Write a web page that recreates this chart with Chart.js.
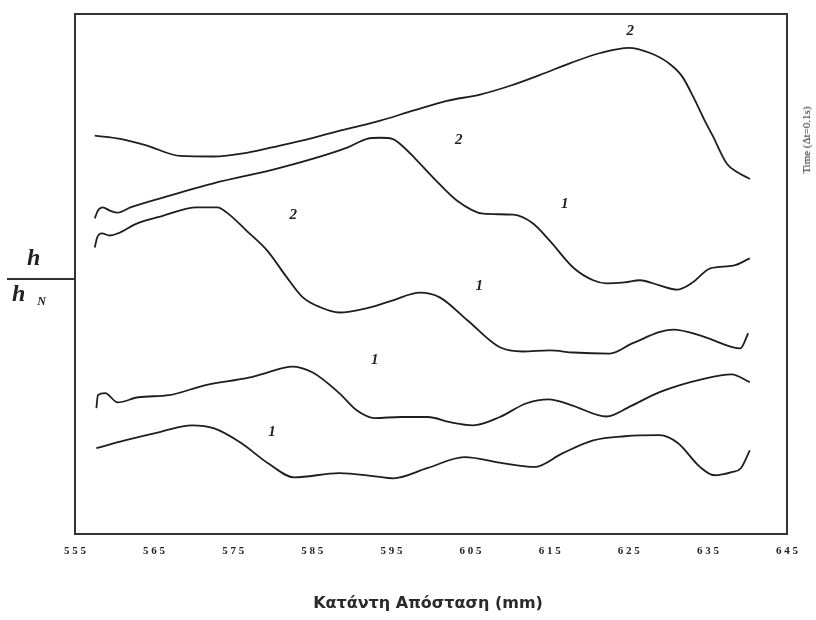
<!DOCTYPE html>
<html>
<head>
<meta charset="utf-8">
<script src="https://cdn.jsdelivr.net/npm/chart.js@4.4.0/dist/chart.umd.min.js"></script>
<style>
  body { margin: 0; background: #fff; }
  #wrap { position: relative; width: 816px; height: 620px; }
  .lbl { position: absolute; font-family: "Liberation Serif", serif; color: #222; white-space: nowrap; }
  #hTop { left: 27px; top: 244px; font-size: 24px; font-style: italic; font-weight: bold; }
  #hBar { position: absolute; left: 7px; top: 278px; width: 68px; height: 0; border-top: 2px solid #333; }
  #hBot { left: 12px; top: 280px; font-size: 24px; font-style: italic; font-weight: bold; }
  #hBot sub { font-size: 12px; margin-left: 12px; vertical-align: -4px; }
  #timeLbl { left: 806px; top: 140px; font-size: 11px; transform: translate(-50%, -50%) rotate(-90deg); }
  #xTitle { left: 428px; top: 593px; transform: translateX(-50%); font-family: "DejaVu Sans", sans-serif; font-weight: bold; font-size: 16px; color: #2a2a2a; }
</style>
</head>
<body>
<div id="wrap">
  <canvas id="grafico" width="816" height="620"></canvas>
  <div class="lbl" id="hTop">h</div>
  <div id="hBar"></div>
  <div class="lbl" id="hBot">h<sub>N</sub></div>
  <div class="lbl" id="timeLbl">Time (Δt=0.1s)</div>
  <div class="lbl" id="xTitle">Κατάντη Απόσταση (mm)</div>
</div>
<script>
// tick labels of the distance axis (mm)
const tickValues = [555, 565, 575, 585, 595, 605, 615, 625, 635, 645];

// curves, top to bottom (x in mm, y in relative height units)
const xA = [557.5, 560.7, 564.1, 568.3, 572.4, 576.7, 580.9, 585.1, 589.4, 593.6, 597.7, 602.0, 606.2, 610.0, 613.8, 617.7, 621.4, 625.0, 627.7, 630.0, 631.7, 633.4, 634.6, 635.6, 637.4, 638.8, 640.3];
const yA = [76.6, 76.0, 74.7, 72.7, 72.6, 73.3, 74.7, 76.2, 77.9, 79.5, 81.4, 83.3, 84.5, 86.2, 88.3, 90.6, 92.5, 93.5, 92.5, 90.6, 88.1, 83.3, 79.5, 76.6, 71.2, 69.5, 68.3];

const xB = [557.5, 557.9, 558.5, 559.4, 560.4, 562.0, 566.1, 572.4, 580.9, 589.4, 591.9, 593.6, 595.1, 596.1, 598.0, 600.3, 603.3, 606.6, 610.4, 612.9, 615.0, 618.0, 620.5, 622.2, 624.5, 626.4, 628.9, 631.1, 633.1, 635.3, 638.2, 640.3];
const yB = [60.7, 62.2, 62.8, 62.2, 61.8, 62.8, 64.7, 67.4, 70.4, 74.3, 76.0, 76.2, 76.0, 75.0, 72.2, 68.5, 64.1, 61.6, 61.4, 59.7, 56.4, 51.2, 48.8, 48.2, 48.4, 48.8, 47.8, 47.0, 48.4, 51.1, 51.6, 53.0];

const xC = [557.5, 557.8, 558.4, 559.4, 560.4, 562.8, 566.1, 570.4, 573.0, 574.2, 576.7, 579.3, 581.8, 583.8, 586.0, 588.4, 591.8, 595.1, 598.6, 601.1, 604.6, 608.7, 611.6, 615.0, 618.0, 622.6, 625.5, 630.6, 634.0, 638.2, 639.1, 640.1];
const yC = [55.1, 57.0, 57.8, 57.4, 57.8, 59.7, 61.2, 62.8, 62.8, 61.8, 58.3, 54.5, 49.3, 45.5, 43.6, 42.6, 43.4, 44.9, 46.4, 45.5, 41.1, 35.9, 35.1, 35.3, 34.9, 34.7, 36.7, 39.3, 38.2, 35.9, 35.7, 38.6];

const xD = [557.7, 557.9, 558.8, 560.4, 563.0, 566.9, 571.4, 577.1, 579.4, 582.4, 585.0, 588.4, 590.6, 592.9, 596.2, 599.6, 602.4, 605.3, 608.7, 612.0, 614.9, 617.7, 622.2, 625.0, 628.9, 634.6, 638.0, 640.3];
const yD = [24.2, 26.7, 27.1, 25.3, 26.3, 26.7, 28.6, 30.1, 31.1, 32.2, 31.1, 27.1, 23.8, 22.3, 22.5, 22.5, 21.5, 20.9, 22.5, 25.1, 25.9, 24.8, 22.6, 24.4, 27.3, 29.9, 30.7, 29.2];

const xE = [557.7, 561.3, 565.7, 569.8, 572.6, 576.0, 579.4, 582.7, 588.4, 592.9, 595.2, 599.6, 604.2, 609.2, 613.1, 616.6, 620.5, 624.5, 628.9, 631.2, 634.0, 635.8, 638.0, 639.2, 640.3];
const yE = [16.5, 18.0, 19.6, 20.9, 20.3, 17.5, 13.6, 10.9, 11.7, 11.1, 10.7, 12.7, 14.8, 13.6, 12.9, 15.5, 18.0, 18.8, 19.0, 17.5, 12.9, 11.3, 11.9, 12.7, 16.1];

// curve markers "1" / "2"
const markText = ['2', '2', '2', '1', '1', '1', '1'];
const markX = [625.2, 603.5, 582.6, 616.9, 606.1, 592.9, 579.9];
const markY = [96.7, 75.8, 61.4, 63.5, 47.6, 33.4, 19.6];

function pares(xs, ys) {
    return xs.map((x, i) => ({ x: x, y: ys[i] }));
}

function serie(xs, ys) {
    return {
        data: pares(xs, ys),
        borderColor: '#1e1e1e',
        borderWidth: 1.8,
        pointRadius: 0,
        fill: false,
        cubicInterpolationMode: 'monotone'
    };
}

// frame + curve numbers
const moldura = {
    id: 'moldura',
    afterDatasetsDraw(chart) {
        const ctx = chart.ctx;
        const a = chart.chartArea;
        const sx = chart.scales.x, sy = chart.scales.y;
        ctx.save();
        ctx.strokeStyle = '#333';
        ctx.lineWidth = 2;
        ctx.strokeRect(a.left, a.top, a.right - a.left, a.bottom - a.top);
        ctx.fillStyle = '#222';
        ctx.font = 'italic bold 15px "Liberation Serif"';
        ctx.textAlign = 'center';
        ctx.textBaseline = 'middle';
        markText.forEach((t, i) => {
            ctx.fillText(t, sx.getPixelForValue(markX[i]), sy.getPixelForValue(markY[i]));
        });
        ctx.restore();
    }
};

new Chart(document.getElementById('grafico'), {
    type: 'line',
    data: {
        datasets: [serie(xA, yA), serie(xB, yB), serie(xC, yC), serie(xD, yD), serie(xE, yE)]
    },
    options: {
        responsive: false,
        animation: false,
        layout: { padding: { left: 75, right: 29, top: 14, bottom: 0 } },
        plugins: { legend: { display: false }, tooltip: { enabled: false } },
        scales: {
            x: {
                type: 'linear',
                min: 555,
                max: 645,
                afterBuildTicks: axis => { axis.ticks = tickValues.map(v => ({ value: v })); },
                afterFit: axis => { axis.height = 86; },
                grid: { display: false, drawTicks: false },
                border: { display: false },
                ticks: {
                    padding: 11,
                    color: '#222',
                    font: { family: 'Liberation Serif', size: 11, weight: 'bold' },
                    callback: v => String(v).split('').join(' ')
                }
            },
            y: {
                display: false,
                min: 0,
                max: 100
            }
        }
    },
    plugins: [moldura]
});
</script>
</body>
</html>
